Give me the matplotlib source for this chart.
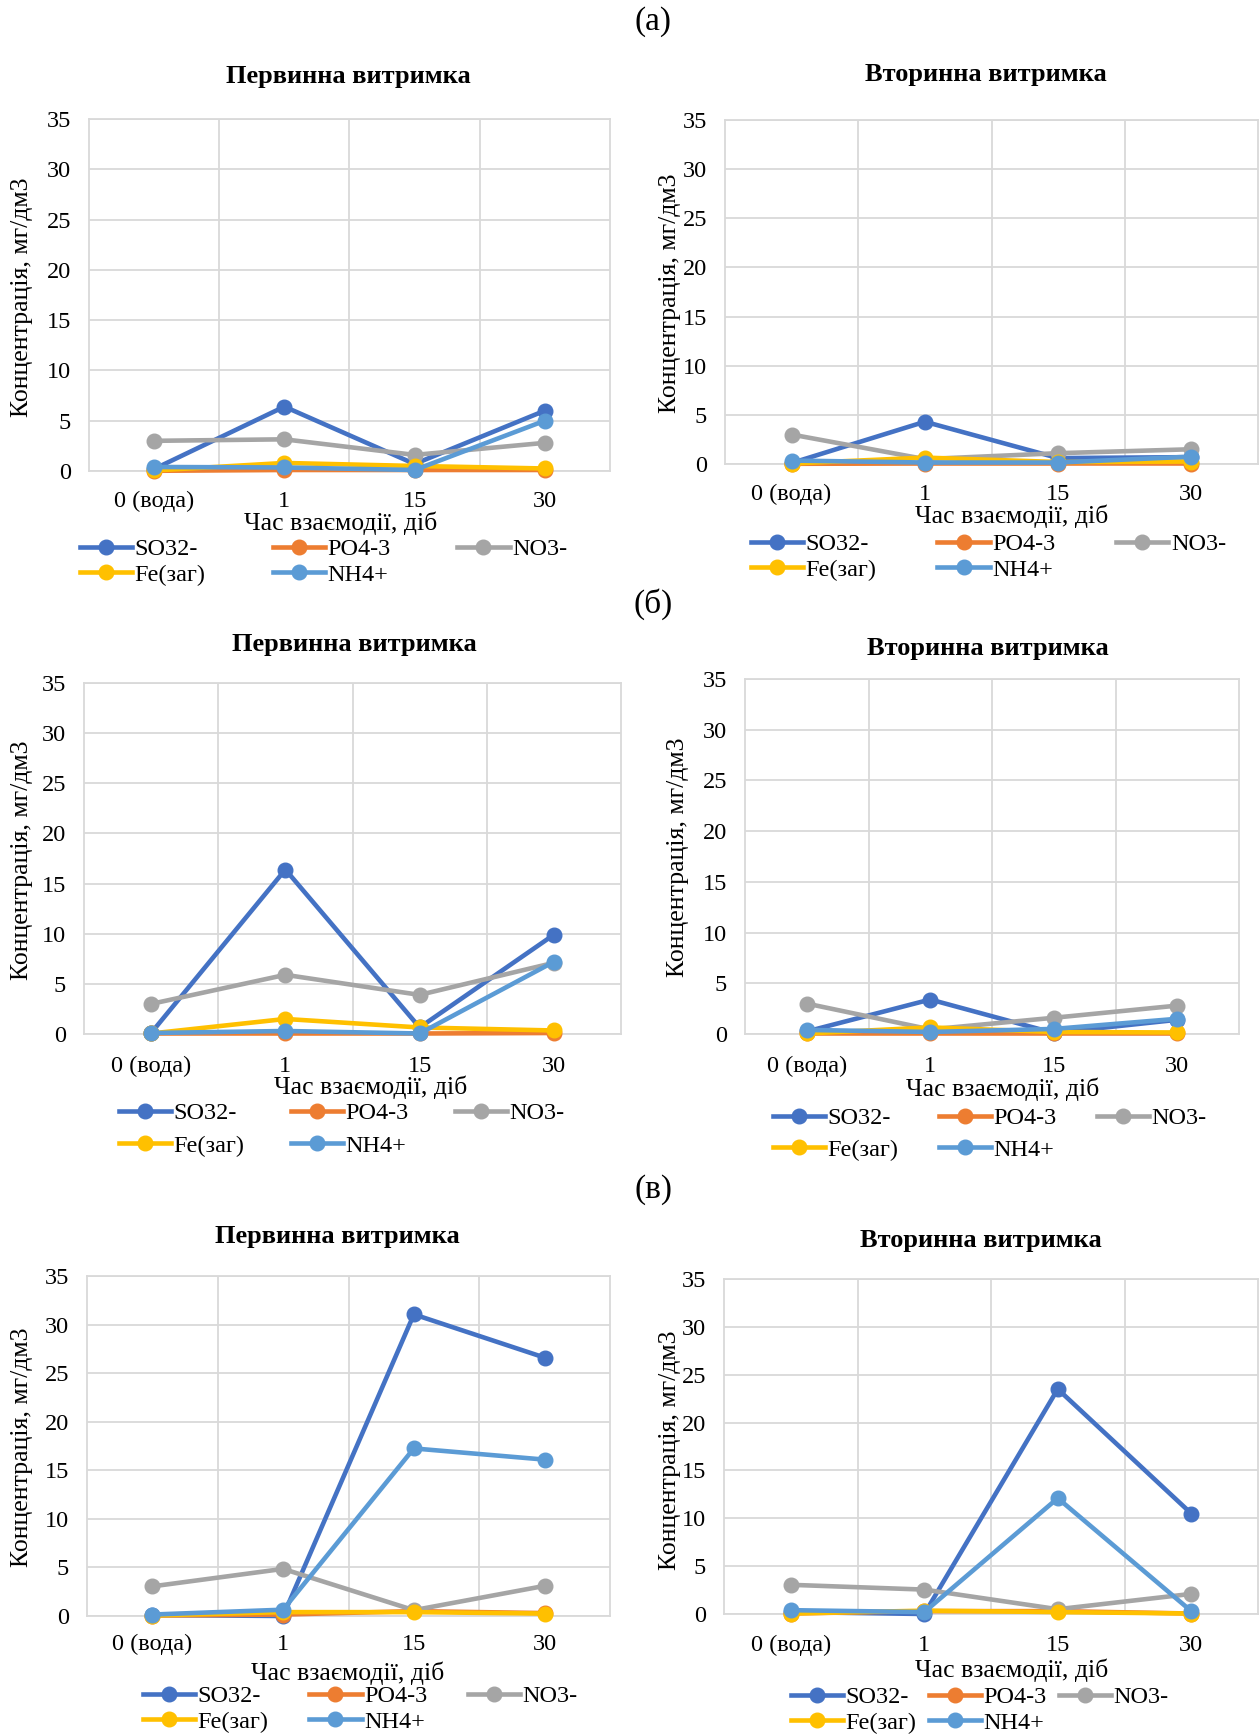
import matplotlib
matplotlib.use("Agg")
import matplotlib.pyplot as plt

plt.rcParams['font.family'] = ['Liberation Serif', 'DejaVu Serif']

days = ['0 (вода)', '1', '15', '30']
names = ['SO32-', 'PO4-3', 'NO3-', 'Fe(заг)', 'NH4+']
colors = ['#4472C4', '#ED7D31', '#A5A5A5', '#FFC000', '#5B9BD5']
yticks = [0, 5, 10, 15, 20, 25, 30, 35]

# (а) первинна
so_a1 = [0.2, 6.4, 0.7, 6.0]
po_a1 = [0.02, 0.1, 0.1, 0.1]
no_a1 = [3.0, 3.15, 1.6, 2.8]
fe_a1 = [0.05, 0.8, 0.5, 0.25]
nh_a1 = [0.4, 0.35, 0.1, 5.0]
# (а) вторинна
so_a2 = [0.1, 4.3, 0.6, 0.7]
po_a2 = [0.02, 0.05, 0.05, 0.05]
no_a2 = [3.0, 0.5, 1.1, 1.5]
fe_a2 = [0.05, 0.65, 0.2, 0.25]
nh_a2 = [0.35, 0.15, 0.15, 0.75]
# (б) первинна
so_b1 = [0.1, 16.4, 0.65, 9.9]
po_b1 = [0.05, 0.05, 0.05, 0.1]
no_b1 = [3.0, 5.9, 3.9, 7.1]
fe_b1 = [0.05, 1.5, 0.65, 0.35]
nh_b1 = [0.1, 0.3, 0.05, 7.2]
# (б) вторинна
so_b2 = [0.25, 3.4, 0.1, 1.4]
po_b2 = [0.05, 0.05, 0.05, 0.05]
no_b2 = [3.0, 0.45, 1.6, 2.8]
fe_b2 = [0.05, 0.65, 0.2, 0.15]
nh_b2 = [0.4, 0.2, 0.5, 1.5]
# (в) первинна
so_c1 = [0.1, 0.0, 31.05, 26.6]
po_c1 = [0.05, 0.15, 0.5, 0.3]
no_c1 = [3.05, 4.85, 0.6, 3.1]
fe_c1 = [0.05, 0.4, 0.4, 0.25]
nh_c1 = [0.15, 0.65, 17.25, 16.1]
# (в) вторинна
so_c2 = [0.2, 0.0, 23.5, 10.5]
po_c2 = [0.05, 0.3, 0.3, 0.05]
no_c2 = [3.05, 2.55, 0.5, 2.1]
fe_c2 = [0.05, 0.35, 0.2, 0.05]
nh_c2 = [0.4, 0.2, 12.1, 0.3]

W, H = 1260, 1734
fig = plt.figure(figsize=(W / 100, H / 100), dpi=100)

# pixel layout per panel:
# box (left, top, right, bottom), title (x, y), xlabel (x, y), ylabel (x, y),
# legend (x, y, colspacing, labelspacing), x tick pad
panels = [
    ([so_a1, po_a1, no_a1, fe_a1, nh_a1], (89, 119, 610, 471), 'Первинна витримка',
     (348, 77), (341, 523), (22, 297), (80, 538, 2.75, 0.15), 14.5),
    ([so_a2, po_a2, no_a2, fe_a2, nh_a2], (725, 120, 1258, 464), 'Вторинна витримка',
     (986, 74), (1012, 516), (670, 293), (751, 533, 2.5, 0.15), 14.5),
    ([so_b1, po_b1, no_b1, fe_b1, nh_b1], (84, 683, 621, 1034), 'Первинна витримка',
     (354, 645), (371, 1087), (22, 860), (119, 1102, 1.9, 0.45), 16),
    ([so_b2, po_b2, no_b2, fe_b2, nh_b2], (745, 679, 1239, 1034), 'Вторинна витримка',
     (988, 649), (1003, 1089), (678, 857), (773, 1107, 1.65, 0.4), 16),
    ([so_c1, po_c1, no_c1, fe_c1, nh_c1], (87, 1276, 610, 1616), 'Первинна витримка',
     (337, 1236), (348, 1673), (22, 1447), (143, 1685, 1.67, 0.15), 13),
    ([so_c2, po_c2, no_c2, fe_c2, nh_c2], (724, 1279, 1258, 1614), 'Вторинна витримка',
     (981, 1240), (1012, 1670), (670, 1450), (791, 1686, 0.5, 0.15), 15),
]

for data, box, title, tpos, xlp, ylp, leg, xpad in panels:
    l, t, r, b = box
    ax = fig.add_axes([l / W, 1 - b / H, (r - l) / W, (b - t) / H])
    handles = []
    for vals, name, col in zip(data, names, colors):
        h, = ax.plot(range(len(days)), vals, color=col, lw=3.3, marker='o', ms=10.5,
                     label=name, clip_on=False, zorder=3)
        handles.append(h)
    ax.set_xlim(-0.5, 3.5)
    ax.set_ylim(0, 35)
    ax.set_xticks(range(len(days)))
    ax.set_xticklabels(days)
    ax.set_xticks([0.5, 1.5, 2.5], minor=True)
    ax.set_yticks(yticks)
    ax.grid(True, which='minor', axis='x', color='#D9D9D9', lw=1.3)
    ax.grid(True, which='major', axis='y', color='#D9D9D9', lw=1.3)
    ax.set_axisbelow(True)
    for s in ax.spines.values():
        s.set_color('#D9D9D9')
        s.set_linewidth(1.3)
    ax.tick_params(which='both', length=0)
    ax.tick_params(axis='y', pad=13, labelsize=17.5)
    ax.tick_params(axis='x', pad=xpad, labelsize=17.5)
    ax.set_xlabel('Час взаємодії, діб', fontsize=18.5, va='center')
    ax.xaxis.set_label_coords((xlp[0] - l) / (r - l), (b - xlp[1]) / (b - t))
    ax.set_ylabel('Концентрація, мг/дм3', fontsize=18.5, va='center')
    ax.yaxis.set_label_coords((ylp[0] - l) / (r - l), (b - ylp[1]) / (b - t))
    fig.text(tpos[0] / W, 1 - tpos[1] / H, title, fontsize=19, fontweight='bold',
             ha='center', va='center')
    lx, ly, cs, lsp = leg
    order = [0, 3, 1, 4, 2]
    fig.legend([handles[i] for i in order], [names[i] for i in order],
               loc='upper left', bbox_to_anchor=(lx / W, 1 - ly / H), ncol=3,
               frameon=False, fontsize=17.5, handlelength=2.15, handletextpad=0.1,
               columnspacing=cs, labelspacing=lsp, borderpad=0, borderaxespad=0)

for txt, y in [('(а)', 22), ('(б)', 604), ('(в)', 1190)]:
    fig.text(653 / W, 1 - y / H, txt, fontsize=24, ha='center', va='center')

fig.savefig('out.png', dpi=100)
